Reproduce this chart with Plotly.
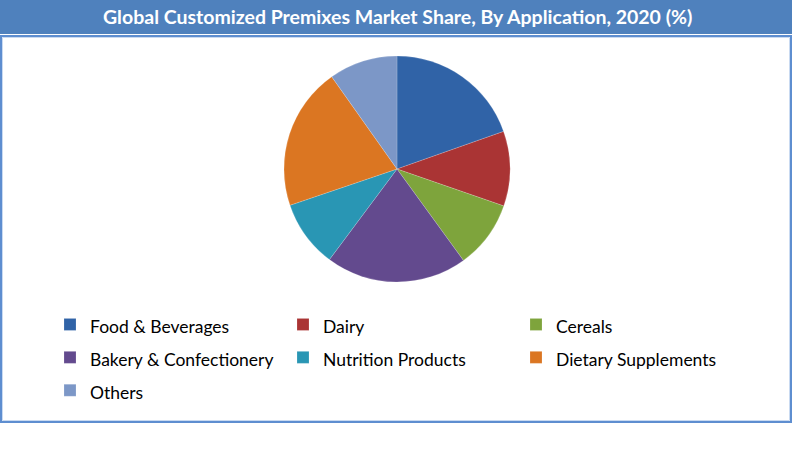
import plotly.graph_objects as go

categories = ["Food & Beverages", "Dairy", "Cereals", "Bakery & Confectionery",
              "Nutrition Products", "Dietary Supplements", "Others"]
shares = [19.6, 10.7, 9.7, 20.2, 9.6, 20.4, 9.8]
colors = ["#3063A7", "#AA3434", "#7EA43C", "#634A8E", "#2996B4", "#DB7622", "#7C97C7"]
title_text = "Global Customized Premixes Market Share, By Application, 2020 (%)"

W, H = 800, 468

def px_x(x):
    return x / W

def px_y(y):
    return 1 - y / H

cx, cy, r = 397, 169, 113

# legend labels rendered a bit smaller than the legend row font so rows are spaced wider
legend_labels = [f"<span style='font-size:17.5px'>{c}</span>" for c in categories]

fig = go.Figure(go.Pie(
    labels=legend_labels,
    values=shares,
    customdata=categories,
    sort=False,
    direction="clockwise",
    rotation=0,
    marker=dict(colors=colors, line=dict(color="rgba(255,255,255,0.35)", width=0.5)),
    textinfo="none",
    hovertemplate="%{customdata}: %{percent}<extra></extra>",
    domain=dict(x=[px_x(cx - r), px_x(cx + r)], y=[px_y(cy + r), px_y(cy - r)]),
))

shapes = [
    # title bar
    dict(type="rect", xref="paper", yref="paper", x0=px_x(0), x1=px_x(792),
         y0=px_y(34), y1=px_y(0), fillcolor="#4F81BD", line=dict(width=0), layer="below"),
    # frame outer
    dict(type="rect", xref="paper", yref="paper", x0=px_x(1), x1=px_x(791),
         y0=px_y(422), y1=px_y(36), line=dict(color="#5E8ED0", width=2), fillcolor="rgba(0,0,0,0)"),
    # frame inner light line
    dict(type="rect", xref="paper", yref="paper", x0=px_x(2.5), x1=px_x(789.5),
         y0=px_y(420.5), y1=px_y(37.5), line=dict(color="#C9DAF1", width=1), fillcolor="rgba(0,0,0,0)"),
]

fig.update_layout(
    width=W, height=H,
    margin=dict(l=0, r=0, t=0, b=0),
    paper_bgcolor="white",
    plot_bgcolor="white",
    shapes=shapes,
    annotations=[dict(text=title_text, xref="paper", yref="paper", x=px_x(397), y=px_y(17),
                      xanchor="center", yanchor="middle", showarrow=False,
                      font=dict(family="Lato", size=19.5, color="white", weight="bold"))],
    showlegend=True,
    legend=dict(
        orientation="h",
        x=px_x(50), y=px_y(303), xanchor="left", yanchor="top",
        entrywidth=188, entrywidthmode="pixels",
        font=dict(family="Lato", size=23, color="#000000"),
        bgcolor="rgba(0,0,0,0)",
        traceorder="normal",
    ),
)

fig.write_html("out.html", config={"displayModeBar": False},
               post_script="document.body.style.margin='0';")
